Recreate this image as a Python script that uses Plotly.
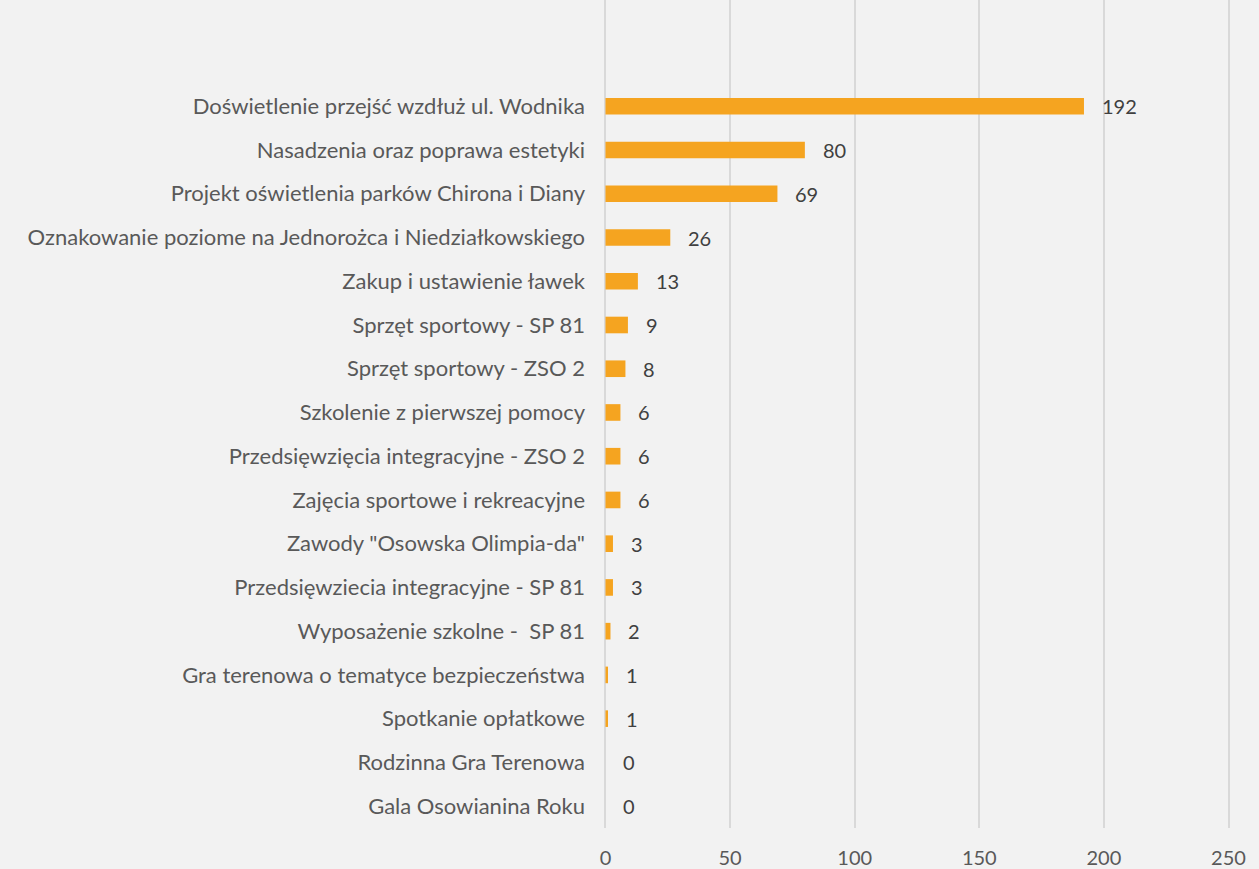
import plotly.graph_objects as go

categories = [
    "Doświetlenie przejść wzdłuż ul. Wodnika",
    "Nasadzenia oraz poprawa estetyki",
    "Projekt oświetlenia parków Chirona i Diany",
    "Oznakowanie poziome na Jednorożca i Niedziałkowskiego",
    "Zakup i ustawienie ławek",
    "Sprzęt sportowy - SP 81",
    "Sprzęt sportowy - ZSO 2",
    "Szkolenie z pierwszej pomocy",
    "Przedsięwzięcia integracyjne - ZSO 2",
    "Zajęcia sportowe i rekreacyjne",
    "Zawody \"Osowska Olimpia-da\"",
    "Przedsięwziecia integracyjne - SP 81",
    "Wyposażenie szkolne -  SP 81",
    "Gra terenowa o tematyce bezpieczeństwa",
    "Spotkanie opłatkowe",
    "Rodzinna Gra Terenowa",
    "Gala Osowianina Roku",
]
values = [192, 80, 69, 26, 13, 9, 8, 6, 6, 6, 3, 3, 2, 1, 1, 0, 0]
x_ticks = [0, 50, 100, 150, 200, 250]

FONT = "Lato, 'Open Sans', sans-serif"

fig = go.Figure()
fig.add_trace(go.Bar(
    y=categories,
    x=values,
    orientation="h",
    marker=dict(color="#F5A420", line=dict(width=0)),
    width=0.38,
    hoverinfo="x+y",
))

for c, v in zip(categories, values):
    fig.add_annotation(
        x=v, y=c, text=str(v), showarrow=False,
        xanchor="left", yanchor="middle", xshift=16,
        font=dict(family=FONT, size=20, color="#404040"),
    )

fig.update_layout(
    width=1259, height=869,
    paper_bgcolor="#F2F2F2", plot_bgcolor="#F2F2F2",
    margin=dict(l=603, r=28, t=0, b=41),
    showlegend=False,
    font=dict(family=FONT, size=20, color="#595959"),
    xaxis=dict(
        range=[-1, 251], tickvals=x_ticks, ticktext=[str(t) for t in x_ticks],
        showgrid=True, gridcolor="#D9D9D9", gridwidth=1.5,
        zeroline=True, zerolinecolor="#D9D9D9", zerolinewidth=1.5,
        showline=False, ticks="",
        ticklabelstandoff=16,
        tickfont=dict(family=FONT, size=20, color="#595959"),
    ),
    yaxis=dict(
        type="category",
        categoryorder="array", categoryarray=categories,
        range=[16.5, -2.43],
        showgrid=False, zeroline=False, showline=False, ticks="",
        ticklabelstandoff=17,
        automargin=False,
        tickfont=dict(family=FONT, size=22, color="#595959"),
    ),
)

fig.write_html(
    "out.html",
    config={"displayModeBar": False},
    post_script="document.body.style.margin='0';document.body.style.background='#F2F2F2';",
)
